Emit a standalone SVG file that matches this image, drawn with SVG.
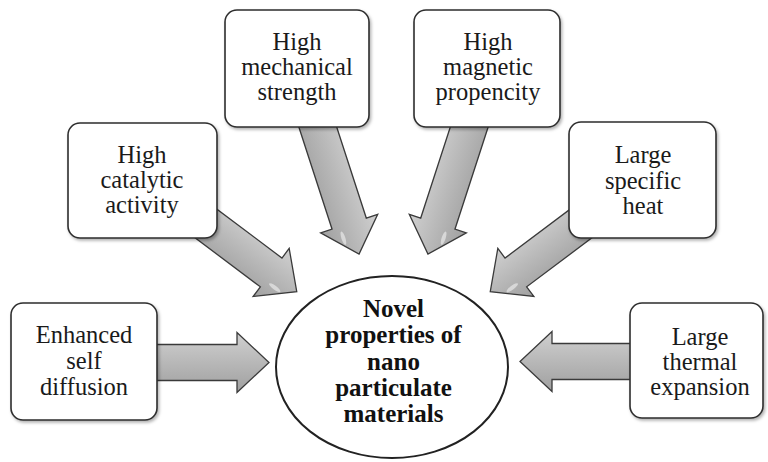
<svg xmlns="http://www.w3.org/2000/svg" width="768" height="462" viewBox="0 0 768 462">
<style>
.box{fill:#fff;stroke:#2e2e2e;stroke-width:1.6}
.lbl{font-family:'Liberation Serif','Times New Roman',serif;font-size:24.5px;fill:#1a1a1a;text-anchor:middle}
.core{font-family:'Liberation Serif','Times New Roman',serif;font-size:25px;font-weight:bold;fill:#111;text-anchor:middle}
.arr{fill:url(#ag);stroke:#3a3a3a;stroke-width:1.3;stroke-linejoin:miter}
.hl{fill:#fff;opacity:0.5}
</style>
<defs>
<linearGradient id="ag" x1="0" y1="0" x2="0" y2="1">
<stop offset="0" stop-color="#d0d0d0"/>
<stop offset="0.45" stop-color="#bababa"/>
<stop offset="1" stop-color="#a0a0a0"/>
</linearGradient>
<filter id="sh" x="-10%" y="-10%" width="125%" height="125%">
<feDropShadow dx="1.5" dy="2" stdDeviation="1.5" flood-color="#000" flood-opacity="0.3"/>
</filter>
</defs>
<rect width="768" height="462" fill="#fff"/>
<g id="connectors">
<g transform="translate(180,204) rotate(36.9)"><path class="arr" d="M0,-18 H114 V-30 L146,0 L114,30 V18 H0 Z"/><ellipse class="hl" cx="126" cy="10" rx="7" ry="2"/></g>
<g transform="translate(309,100) rotate(72)"><path class="arr" d="M0,-18 H130 V-30 L162,0 L130,30 V18 H0 Z"/><ellipse class="hl" cx="142" cy="10" rx="7" ry="2"/></g>
<g transform="translate(478,100) scale(-1,1) rotate(72)"><path class="arr" d="M0,-18 H130 V-30 L162,0 L130,30 V18 H0 Z"/><ellipse class="hl" cx="142" cy="10" rx="7" ry="2"/></g>
<g transform="translate(607,204) scale(-1,1) rotate(36.9)"><path class="arr" d="M0,-18 H114 V-30 L146,0 L114,30 V18 H0 Z"/><ellipse class="hl" cx="126" cy="10" rx="7" ry="2"/></g>
<g transform="translate(150,362.5)"><path class="arr" d="M0,-18 H87 V-30 L119,0 L87,30 V18 H0 Z"/></g>
<g transform="translate(640,361.5) scale(-1,1)"><path class="arr" d="M0,-18 H88 V-30 L120,0 L88,30 V18 H0 Z"/></g>
</g>
<g id="n-enhanced">
<rect class="box" filter="url(#sh)" x="11" y="303" width="146" height="117" rx="12"/>
<text class="lbl" x="84" y="343">Enhanced</text>
<text class="lbl" x="84" y="369">self</text>
<text class="lbl" x="84" y="395">diffusion</text>
</g>
<g id="n-catalytic">
<rect class="box" filter="url(#sh)" x="68" y="123" width="149" height="115" rx="12"/>
<text class="lbl" x="142" y="163">High</text>
<text class="lbl" x="142" y="188">catalytic</text>
<text class="lbl" x="142" y="213">activity</text>
</g>
<g id="n-mechanical">
<rect class="box" filter="url(#sh)" x="225" y="10" width="144" height="117" rx="12"/>
<text class="lbl" x="297" y="50">High</text>
<text class="lbl" x="297" y="75">mechanical</text>
<text class="lbl" x="297" y="100">strength</text>
</g>
<g id="n-magnetic">
<rect class="box" filter="url(#sh)" x="414" y="10" width="146" height="117" rx="12"/>
<text class="lbl" x="488" y="50">High</text>
<text class="lbl" x="488" y="75">magnetic</text>
<text class="lbl" x="488" y="100">propencity</text>
</g>
<g id="n-specific">
<rect class="box" filter="url(#sh)" x="569" y="122" width="147" height="116" rx="12"/>
<text class="lbl" x="643" y="163">Large</text>
<text class="lbl" x="643" y="189">specific</text>
<text class="lbl" x="643" y="214">heat</text>
</g>
<g id="n-thermal">
<rect class="box" filter="url(#sh)" x="630" y="303" width="133" height="115" rx="12"/>
<text class="lbl" x="700" y="345">Large</text>
<text class="lbl" x="700" y="370">thermal</text>
<text class="lbl" x="700" y="395">expansion</text>
</g>
<g id="n-core">
<ellipse cx="392" cy="367" rx="116" ry="91" fill="#fff" stroke="#222" stroke-width="2"/>
<text class="core" x="393.5" y="317">Novel</text>
<text class="core" x="393.5" y="343">properties of</text>
<text class="core" x="393.5" y="369.5">nano</text>
<text class="core" x="393.5" y="395.5">particulate</text>
<text class="core" x="393.5" y="422">materials</text>
</g>
</svg>
